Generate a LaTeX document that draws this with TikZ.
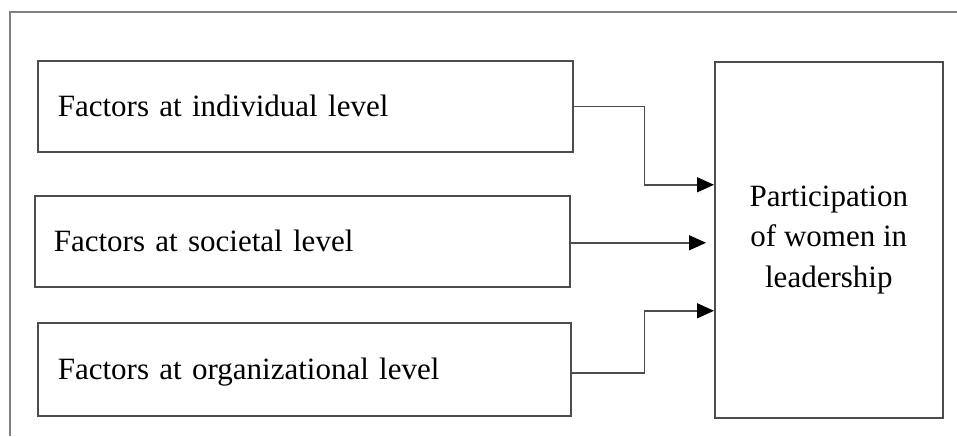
\documentclass[tikz,border=0pt]{standalone}
\usepackage{fontspec}
\setmainfont{Liberation Serif}
\usepackage{tikz}
\usetikzlibrary{arrows.meta,positioning,calc}
\definecolor{edge}{RGB}{77,77,77}
\definecolor{frame}{RGB}{128,128,128}
\tikzset{
  factor/.style={rectangle, draw=edge, line width=1.6pt, align=left,
    minimum height=91pt, text width=495pt, inner xsep=20pt,
    text height=21pt, text depth=0pt, font=\fontsize{31pt}{40.5pt}\selectfont},
  outcome/.style={rectangle, draw=edge, line width=1.6pt, align=center,
    minimum width=228pt, minimum height=356pt,
    font=\fontsize{31pt}{40.5pt}\selectfont},
  conn/.style={-{Triangle[length=17pt,width=15pt,color=black]}, draw=edge, line width=1.4pt},
}

\begin{document}
\begin{tikzpicture}[x=1pt,y=-1pt]
  \useasboundingbox (0,0) rectangle (957,436);
  % outer frame
  \draw[frame, line width=1.6pt] (10,436) -- (10,12) -- (957,12);
  \node[factor, anchor=north west] (ind) at (37,60) {Factors at individual level};
  \node[factor, anchor=north west, text width=497pt, inner xsep=19pt] (soc) at (34,195) {Factors at societal level};
  \node[factor, anchor=north west, text width=493pt, minimum height=93pt] (org) at (37,322) {Factors at organizational level};
  \node[outcome, anchor=north west] (part) at (714,61) {Participation\\of women in\\leadership};
  \draw[conn] (ind.east) -- ++(71,0) |- ([yshift=55pt]part.west);
  \draw[conn] ([yshift=-1.5pt]soc.east) -- ([xshift=-8pt,yshift=-1.5pt]part.west |- soc.east);
  \draw[conn] ([yshift=-3.5pt]org.east) -- ++(73,0) |- ([yshift=-71pt]part.west);
\end{tikzpicture}
\end{document}
